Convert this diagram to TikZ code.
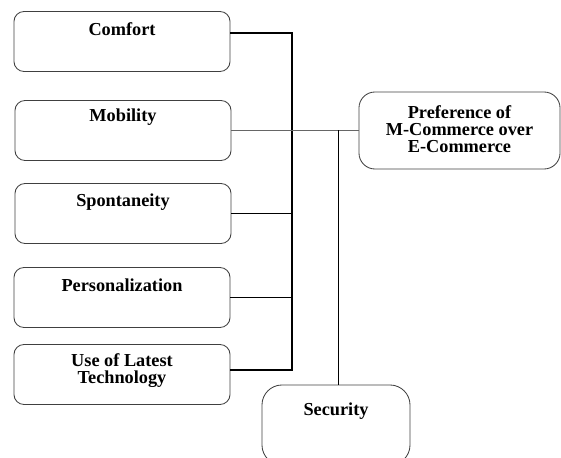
\documentclass[tikz,border=0pt]{standalone}
\usepackage{fontspec}
\setmainfont{Liberation Serif}
\usepackage{xcolor}

\begin{document}
\begin{tikzpicture}[x=0.025cm,y=-0.025cm,
	box/.style={draw=black!75,line width=0.6pt,rounded corners=0.25cm,minimum width=5.4cm,minimum height=1.5cm,inner sep=0pt},
	txt/.style={font=\fontsize{13}{12}\selectfont\bfseries,align=center,inner sep=0pt},
	link/.style={line width=0.8pt}]
		\useasboundingbox (0,0) rectangle (561,458);
		%因素
		\draw (122,41.5) node[box](f-1){} (123,130.5) node[box](f-2){};
		\draw (123,213.5) node[box](f-3){} (122,297.5) node[box](f-4){};
		\draw (122,374.5) node[box](f-5){};
		\draw (459.5,130.5) node[box,minimum width=5.025cm,minimum height=1.925cm,rounded corners=0.4cm](p){};
		\draw (336,425) node[box,minimum width=3.7cm,minimum height=2cm,rounded corners=0.5cm](s){};
		\draw (122,29) node[txt](t-1){Comfort} (123,117) node[txt](t-2){Mobility};
		\draw (123,202) node[txt](t-3){Spontaneity} (122,285) node[txt](t-4){Personalization};
		\draw (122,370.5) node[txt](t-5){Use of Latest\\Technology};
		\draw (459.5,129) node[txt](t-p){Preference of\\M-Commerce over\\E-Commerce};
		\draw (336,411) node[txt](t-s){Security};
		%连线
		\coordinate (bus-t) at (292,33);
		\coordinate (bus-b) at (292,370);
		\coordinate (sec-t) at (338.5,130.5);
		\draw[link] (f-1.east |- bus-t) -- (bus-t) -- (bus-b) -- (f-5.east |- bus-b);
		\draw[link] (f-3.east) -- (f-3.east -| bus-t) (f-4.east) -- (f-4.east -| bus-t);
		\draw[black!60,line width=0.5pt] (f-2.east) -- (p.west);
		\draw[link] (sec-t) -- (s.north -| sec-t);
	\end{tikzpicture}
\end{document}
